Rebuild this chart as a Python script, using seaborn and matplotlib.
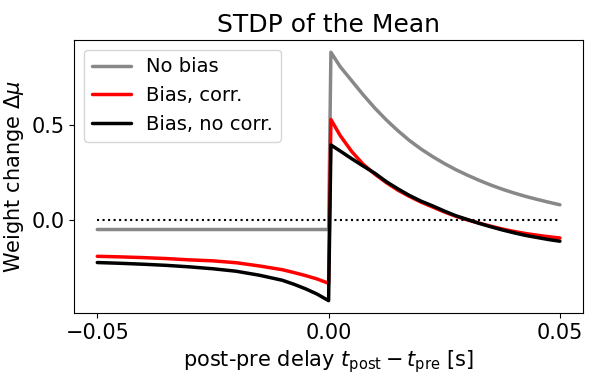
import numpy as np
import pandas as pd
import seaborn as sns
from matplotlib import pyplot as plt

sns.set_style("ticks", {"axes.edgecolor": "black", "xtick.color": "black",
                        "ytick.color": "black", "text.color": "black",
                        "axes.labelcolor": "black"})
plt.rcParams["font.family"] = ["DejaVu Sans"]

# post-pre delay [s], before and after the pairing
t_pre = [-0.05, -0.045, -0.04, -0.035, -0.03, -0.025, -0.02, -0.015, -0.01, -0.0075, -0.005, -0.0025, 0.0]
t_post = [0.0005, 0.0025, 0.005, 0.0075, 0.01, 0.0125, 0.015, 0.0175, 0.02, 0.0225, 0.025,
          0.0275, 0.03, 0.0325, 0.035, 0.0375, 0.04, 0.0425, 0.045, 0.0475, 0.05]

no_bias_pre = [-0.053] * 13
no_bias_post = [0.886, 0.81, 0.735, 0.66, 0.59, 0.527, 0.47, 0.418, 0.373, 0.333, 0.297,
                0.264, 0.235, 0.208, 0.183, 0.161, 0.141, 0.123, 0.107, 0.092, 0.078]

corr_pre = [-0.195, -0.198, -0.202, -0.207, -0.214, -0.219, -0.229, -0.246, -0.266, -0.281, -0.297, -0.315, -0.338]
corr_post = [0.53, 0.445, 0.36, 0.292, 0.24, 0.195, 0.155, 0.122, 0.092, 0.066, 0.04,
             0.017, -0.002, -0.019, -0.035, -0.05, -0.063, -0.074, -0.083, -0.091, -0.098]

nocorr_pre = [-0.228, -0.232, -0.237, -0.243, -0.251, -0.261, -0.274, -0.295, -0.322, -0.343, -0.367, -0.395, -0.43]
nocorr_post = [0.395, 0.363, 0.322, 0.283, 0.245, 0.2, 0.162, 0.127, 0.097, 0.072, 0.045,
               0.02, 0.0, -0.02, -0.038, -0.055, -0.07, -0.084, -0.095, -0.106, -0.115]

series = [
  ("No bias", no_bias_pre, no_bias_post, "#888888"),
  ("Bias, corr.", corr_pre, corr_post, "red"),
  ("Bias, no corr.", nocorr_pre, nocorr_post, "black"),
]

fig = plt.figure(figsize=(5.98, 3.87), dpi=100)
ax = fig.add_axes([0.124, 0.191, 0.851, 0.706])

t = t_pre + t_post
for label, pre, post, color in series:
  sns.lineplot(x=t, y=pre + post, estimator=None, sort=False, color=color,
               lw=2.5, label=label, ax=ax)

ax.plot([t_pre[0], t_post[-1]], [0, 0], color="black", ls=":", lw=1.5)

ax.set_xticks([-0.05, 0.0, 0.05])
ax.set_yticks([0.0, 0.5])
ax.set_yticklabels(["0.0", "0.5"])
ax.tick_params(labelsize=15)
ax.set_title("STDP of the Mean", fontsize=18)
ax.set_xlabel(r"post-pre delay $t_{\rm post} - t_{\rm pre}$ [s]", fontsize=15)
ax.set_ylabel(r"Weight change $\Delta\mu$", fontsize=15)
ax.legend(loc="upper left", fontsize=14)

fig.savefig("out.png", dpi=100)
